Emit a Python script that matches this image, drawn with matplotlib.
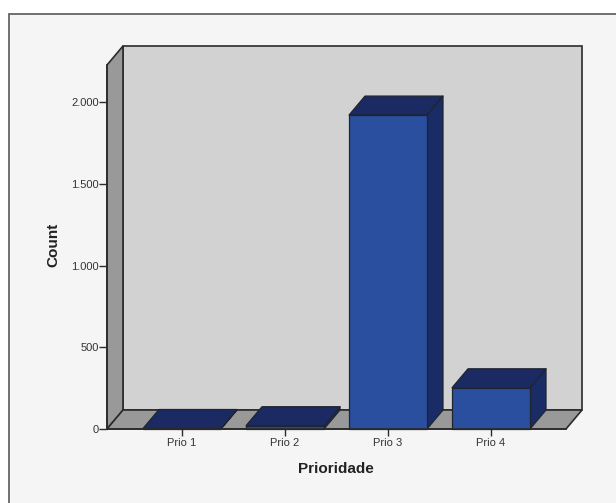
import matplotlib
matplotlib.use("Agg")
import matplotlib.pyplot as plt
from matplotlib.patches import Polygon, Rectangle

categories = ["Prio 1", "Prio 2", "Prio 3", "Prio 4"]
counts = [3, 20, 1920, 252]
y_ticks = [0, 500, 1000, 1500, 2000]
y_tick_labels = ["0", "500", "1.000", "1.500", "2.000"]

W, H = 616, 503
FRONT_L, FRONT_R, FRONT_B, FRONT_T = 107, 566, 429, 65
DEPTH_X, DEPTH_Y = 16, 19
PX_PER_BAND = 103.0
PX_PER_COUNT = 327.0 / 2000.0
BAR_WIDTH = 78.0 / PX_PER_BAND

FACE = "#2a4f9f"
TOP = "#1b2a63"
SIDE = "#1a2c66"
EDGE = "#20242e"
WALL = "#d2d2d2"
SIDE_WALL = "#999999"
PAGE = "#f5f5f5"
LINE = "#2b2b2b"

plt.rcParams["font.family"] = ["Liberation Sans", "DejaVu Sans"]

fig = plt.figure(figsize=(W / 100, H / 100), dpi=100, facecolor="white")

# Page panel behind the chart, open towards the right and bottom edges
fig.add_artist(Rectangle((9 / W, -0.1), 1.1, 1.1 - 14 / H, transform=fig.transFigure,
                         facecolor=PAGE, edgecolor="#666666", linewidth=1.3, zorder=-1))

ax = fig.add_axes([FRONT_L / W, 1 - FRONT_B / H,
                   (FRONT_R + DEPTH_X - FRONT_L) / W,
                   (FRONT_B - FRONT_T + DEPTH_Y) / H])
ax.patch.set_alpha(0)

margin = (FRONT_R - FRONT_L - 4 * PX_PER_BAND) / 2 / PX_PER_BAND
x_min = -0.5 - margin
x_max = 3.5 + margin
y_top = (FRONT_B - FRONT_T) / PX_PER_COUNT
dx = DEPTH_X / PX_PER_BAND
dy = DEPTH_Y / PX_PER_COUNT
ax.set_xlim(x_min, x_max + dx)
ax.set_ylim(0, y_top + dy)

wall_style = dict(edgecolor=LINE, linewidth=1.2, joinstyle="miter", clip_on=False)
# Back wall, left wall and floor of the box
ax.add_patch(Polygon([(x_min + dx, dy), (x_max + dx, dy), (x_max + dx, y_top + dy), (x_min + dx, y_top + dy)],
                     facecolor=WALL, **wall_style))
ax.add_patch(Polygon([(x_min, 0), (x_min + dx, dy), (x_min + dx, y_top + dy), (x_min, y_top)],
                     facecolor=SIDE_WALL, **wall_style))
ax.add_patch(Polygon([(x_min, 0), (x_max, 0), (x_max + dx, dy), (x_min + dx, dy)],
                     facecolor=SIDE_WALL, **wall_style))

# Extruded bars: side, top, then front face
bar_style = dict(edgecolor=EDGE, linewidth=0.9, joinstyle="round", clip_on=False, zorder=3)
for pos, value in enumerate(counts):
    l, r = pos - BAR_WIDTH / 2, pos + BAR_WIDTH / 2
    ax.add_patch(Polygon([(r, 0), (r + dx, dy), (r + dx, value + dy), (r, value)],
                         facecolor=SIDE, **bar_style))
    ax.add_patch(Polygon([(l, value), (r, value), (r + dx, value + dy), (l + dx, value + dy)],
                         facecolor=TOP, **bar_style))
    ax.add_patch(Polygon([(l, 0), (r, 0), (r, value), (l, value)],
                         facecolor=FACE, **bar_style))

for name in ("top", "right"):
    ax.spines[name].set_visible(False)
ax.spines["left"].set_bounds(0, y_top)
ax.spines["bottom"].set_bounds(x_min, x_max)
for name in ("left", "bottom"):
    ax.spines[name].set_color(LINE)
    ax.spines[name].set_linewidth(1.2)
    ax.spines[name].set_zorder(4)

ax.set_xticks(range(len(categories)), categories)
ax.set_yticks(y_ticks, y_tick_labels)
ax.tick_params(axis="both", length=5.5, width=1.0, color=LINE, labelsize=8,
               labelcolor="#333333", pad=0.5)
ax.tick_params(axis="x", length=5, pad=1.5)

fig.text(336 / W, 1 - 469 / H, "Prioridade", ha="center", va="center",
         fontsize=11, fontweight="bold", color="#222222")
fig.text(53.5 / W, 1 - 245 / H, "Count", ha="center", va="center", rotation=90,
         fontsize=11, fontweight="bold", color="#222222")

fig.savefig("out.png", dpi=100, facecolor="white")
